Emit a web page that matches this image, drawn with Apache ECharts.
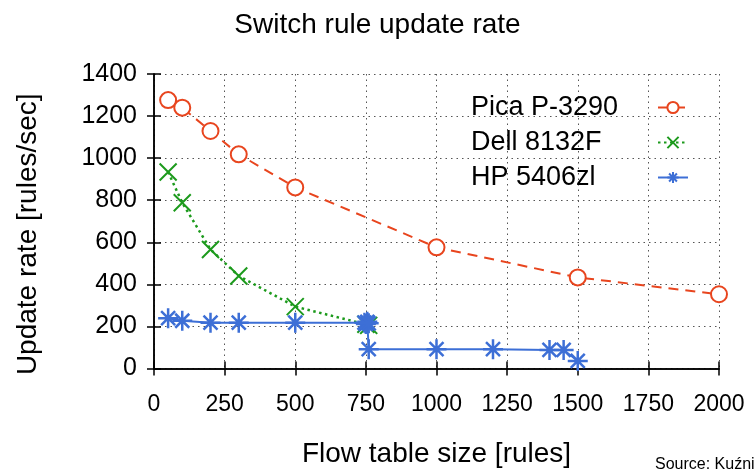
<!DOCTYPE html>
<html>
<head>
<meta charset="utf-8">
<script src="https://cdn.jsdelivr.net/npm/echarts@6/dist/echarts.min.js"></script>
<style>
  html, body { margin: 0; padding: 0; background: #fff; }
  #chart { width: 755px; height: 472px; }
</style>
</head>
<body>
<div id="chart"></div>
<script>
// data: [flow table size, update rate]
const picaData = [[50, 1276], [100, 1240], [200, 1129], [300, 1018], [500, 861],
                  [1000, 576], [1500, 433], [2000, 353]];
const dellData = [[50, 934], [100, 788], [200, 566], [300, 440], [500, 294],
                  [750, 210], [760, 205]];
const hpData = [[50, 239], [100, 227], [200, 218], [300, 218], [500, 218],
                [745, 218], [750, 212], [755, 222], [760, 215], [760, 92],
                [1000, 92], [1200, 92], [1400, 88], [1450, 88], [1500, 36]];
const seriesNames = ['Pica P-3290', 'Dell 8132F', 'HP 5406zl'];
const xTicks = [0, 250, 500, 750, 1000, 1250, 1500, 1750, 2000];
const yTicks = [0, 200, 400, 600, 800, 1000, 1200, 1400];

const FONT = '"Liberation Sans", Arial, sans-serif';
const RED = '#e8451e', GREEN = '#1c9a1c', BLUE = '#3d6fd6';

let myChart = echarts.init(document.getElementById('chart'));

const crossPath = 'path://M0,0L10,10M10,0L0,10';
const starPath = 'path://M5,0L5,10M0,5L10,5M1.5,1.5L8.5,8.5M8.5,1.5L1.5,8.5';

const plainNum = v => String(v);

const baseX = {
    type: 'value',
    min: xTicks[0],
    max: xTicks[xTicks.length - 1],
    interval: 250,
    axisLine: { show: true, lineStyle: { color: '#000', width: 1.5 } },
    axisTick: { show: true, inside: true, length: 7, lineStyle: { color: '#000', width: 1.5 } }
};
const baseY = {
    type: 'value',
    min: yTicks[0],
    max: yTicks[yTicks.length - 1],
    interval: 200,
    axisLine: { show: true, lineStyle: { color: '#000', width: 1.5 } },
    axisTick: { show: true, inside: true, length: 7, lineStyle: { color: '#000', width: 1.5 } }
};

let option = {
    animation: false,
    backgroundColor: '#fff',
    textStyle: { fontFamily: FONT },
    title: [
        {
            text: 'Switch rule update rate',
            left: 'center',
            top: 6,
            textStyle: { fontFamily: FONT, fontSize: 28, fontWeight: 'normal', color: '#000' }
        },
        {
            text: 'Source: Kuźniar et al.',
            left: 650,
            top: 452,
            textStyle: { fontFamily: FONT, fontSize: 16, fontWeight: 'normal', color: '#000' }
        }
    ],
    legend: {
        orient: 'vertical',
        right: 61,
        top: 89,
        align: 'right',
        itemWidth: 30,
        itemHeight: 14,
        itemGap: 8,
        data: seriesNames,
        formatter: '{a|{name}}',
        textStyle: {
            fontFamily: FONT, fontSize: 27, color: '#000',
            rich: { a: { fontFamily: FONT, fontSize: 27, color: '#000', width: 182, align: 'left' } }
        }
    },
    grid: { left: 154, right: 36, top: 74, bottom: 103.5, outerBoundsMode: 'none', containLabel: false },
    xAxis: [
        Object.assign({}, baseX, {
            position: 'bottom',
            name: 'Flow table size [rules]',
            nameLocation: 'middle',
            nameGap: 72,
            nameTextStyle: { fontFamily: FONT, fontSize: 28, color: '#000' },
            axisLabel: { margin: 25, fontFamily: FONT, fontSize: 23, color: '#000', formatter: plainNum },
            splitLine: { show: true, lineStyle: { color: '#555', type: [1.5, 4], width: 1 } }
        }),
        Object.assign({}, baseX, {
            position: 'top',
            axisLabel: { show: false },
            splitLine: { show: false }
        })
    ],
    yAxis: [
        Object.assign({}, baseY, {
            position: 'left',
            name: 'Update rate [rules/sec]',
            nameLocation: 'middle',
            nameGap: 112,
            nameTextStyle: { fontFamily: FONT, fontSize: 28, color: '#000', padding: [0, 0, 0, -26] },
            axisLabel: { margin: 17, fontFamily: FONT, fontSize: 25, color: '#000', formatter: plainNum },
            splitLine: { show: true, lineStyle: { color: '#555', type: [1.5, 4], width: 1 } }
        }),
        Object.assign({}, baseY, {
            position: 'right',
            axisLabel: { show: false },
            splitLine: { show: false }
        })
    ],
    series: [
        {
            name: seriesNames[0],
            type: 'line',
            data: picaData,
            symbol: 'emptyCircle',
            symbolSize: 16,
            itemStyle: { color: RED, borderColor: RED, borderWidth: 2 },
            lineStyle: { color: RED, width: 2, type: [10, 7] }
        },
        {
            name: seriesNames[1],
            type: 'line',
            data: dellData,
            symbol: crossPath,
            symbolSize: 17,
            itemStyle: { color: GREEN, borderColor: GREEN, borderWidth: 2 },
            lineStyle: { color: GREEN, width: 2.5, type: [2.5, 3.5] }
        },
        {
            name: seriesNames[2],
            type: 'line',
            data: hpData,
            symbol: starPath,
            symbolSize: 20,
            itemStyle: { color: BLUE, borderColor: BLUE, borderWidth: 2.5 },
            lineStyle: { color: BLUE, width: 2 }
        }
    ]
};

myChart.setOption(option);
</script>
</body>
</html>
